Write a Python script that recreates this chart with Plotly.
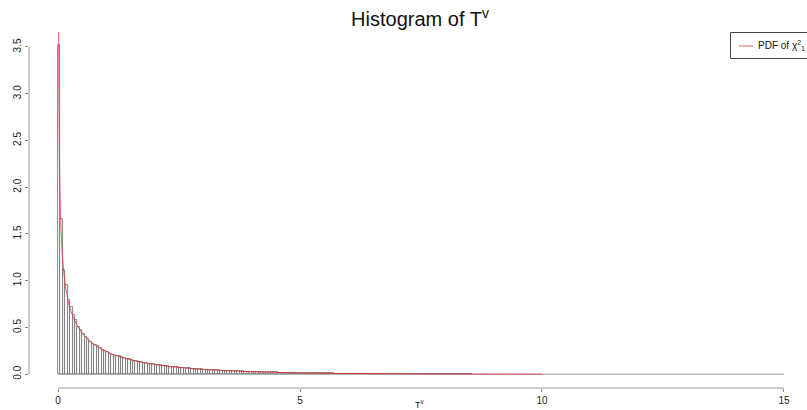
import plotly.graph_objects as go

# ---- data ----
bin_width = 0.05
hist_heights = [
    3.52, 1.66, 1.12, 0.95, 0.79, 0.72, 0.63, 0.58, 0.51, 0.47,
    0.43, 0.40, 0.38, 0.35, 0.32, 0.31, 0.30, 0.28, 0.26, 0.25,
    0.24, 0.22, 0.21, 0.20, 0.19, 0.19, 0.18, 0.17, 0.16, 0.16,
    0.15, 0.145, 0.14, 0.13, 0.13, 0.12, 0.12, 0.115, 0.11, 0.105,
    0.10, 0.098, 0.094, 0.092, 0.087, 0.085, 0.081, 0.080, 0.076, 0.073,
    0.071, 0.069, 0.066, 0.064, 0.062, 0.060, 0.058, 0.056, 0.054, 0.052,
    0.050, 0.049, 0.047, 0.046, 0.044, 0.042, 0.041, 0.040, 0.039, 0.037,
    0.036, 0.035, 0.034, 0.032, 0.032, 0.030, 0.030, 0.029, 0.028, 0.027,
    0.026, 0.025, 0.025, 0.024, 0.023, 0.022, 0.021, 0.021, 0.020, 0.019,
    0.019, 0.018, 0.018, 0.017, 0.016, 0.016, 0.015, 0.015, 0.014, 0.014,
    0.013, 0.013, 0.013, 0.012, 0.012, 0.011, 0.011, 0.011, 0.010, 0.010,
    0.010, 0.009, 0.009, 0.009, 0.008, 0.008, 0.008, 0.008, 0.007, 0.007,
    0.007, 0.007, 0.006, 0.006, 0.006, 0.006, 0.006, 0.005, 0.005, 0.005,
    0.005, 0.005, 0.004, 0.004, 0.004, 0.004, 0.004, 0.004, 0.003, 0.003,
    0.003, 0.003, 0.003, 0.003, 0.003, 0.003, 0.002, 0.002, 0.002, 0.002,
    0.002, 0.002, 0.002, 0.002, 0.002, 0.002, 0.002, 0.001, 0.001, 0.001,
    0.001, 0.001, 0.001, 0.001, 0.001, 0.001, 0.001, 0.001, 0.001, 0.001, 0.001,
]
bin_centers = [bin_width * (i + 0.5) for i in range(len(hist_heights))]

pdf_x = [0.01, 0.02, 0.03, 0.05, 0.075, 0.1, 0.15, 0.2, 0.25, 0.3, 0.4, 0.5, 0.6,
         0.7, 0.8, 0.9, 1.0, 1.2, 1.4, 1.6, 1.8, 2.0, 2.5, 3.0, 3.5, 4.0, 4.5,
         5.0, 6.0, 7.0, 8.0, 9.0, 10.0]
pdf_y = [3.97, 2.79, 2.27, 1.74, 1.40, 1.20, 0.956, 0.807, 0.704, 0.627, 0.516,
         0.439, 0.3815, 0.336, 0.299, 0.268, 0.242, 0.200, 0.1674, 0.1417,
         0.1209, 0.1038, 0.0723, 0.0514, 0.0371, 0.027, 0.0198, 0.0146,
         0.0081, 0.0046, 0.0026, 0.0015, 0.00085]

baseline_x = [0, 15]
baseline_y = [0, 0]

x_ticks = [0, 5, 10, 15]
y_ticks = [0.0, 0.5, 1.0, 1.5, 2.0, 2.5, 3.0, 3.5]
y_ticklabels = ["0.0", "0.5", "1.0", "1.5", "2.0", "2.5", "3.0", "3.5"]
legend_label = "PDF of χ<sup>2</sup><sub>1</sub>"

FONT = "Liberation Sans, Arial, sans-serif"
RED = "rgba(225,40,40,0.75)"

W, H = 807, 410
ml, mr, mt, mb = 29, 0, 32, 22
pw, ph = W - ml - mr, H - mt - mb


def px_x(p):
    return (p - ml) / pw


def px_y(p):
    return (H - mb - p) / ph


fig = go.Figure()
fig.add_trace(go.Scatter(x=baseline_x, y=baseline_y, mode="lines",
                         line=dict(color="#9a9a9a", width=1), showlegend=False,
                         hoverinfo="skip"))
fig.add_trace(go.Bar(x=bin_centers, y=hist_heights, width=bin_width,
                     marker=dict(color="#ffffff", line=dict(color="#6a6a6a", width=0.8)),
                     showlegend=False))
fig.add_trace(go.Scatter(x=pdf_x, y=pdf_y, mode="lines",
                         line=dict(color=RED, width=1, shape="spline"),
                         name=legend_label, showlegend=False))

fig.update_layout(
    width=W, height=H,
    margin=dict(l=ml, r=mr, t=mt, b=mb, autoexpand=False),
    paper_bgcolor="white", plot_bgcolor="white",
    bargap=0,
    showlegend=False,
    font=dict(family=FONT, color="#222222", size=10),
    title=dict(text="Histogram of T<sup>v</sup>", x=420 / W, xanchor="center",
               y=1 - 19 / H, yanchor="middle",
               font=dict(size=20, family=FONT, color="#111111")),
    xaxis=dict(range=[-0.6, 15.476], tickvals=x_ticks, ticktext=[str(t) for t in x_ticks],
               showgrid=False, zeroline=False, showline=False, automargin=False,
               ticks="outside", ticklen=3, tickcolor="#888888",
               tickfont=dict(size=10, color="#222222"), fixedrange=True),
    yaxis=dict(range=[-0.147, 3.66], tickvals=y_ticks, ticktext=y_ticklabels,
               showgrid=False, zeroline=False, showline=False, automargin=False,
               ticks="outside", ticklen=3, tickcolor="#888888", tickangle=-90,
               tickfont=dict(size=10, color="#222222"), fixedrange=True),
    shapes=[
        dict(type="line", xref="paper", yref="y", x0=0, x1=0, y0=0, y1=3.5,
             line=dict(color="#9a9a9a", width=1)),
        dict(type="line", xref="x", yref="paper", x0=0, x1=15, y0=0, y1=0,
             line=dict(color="#9a9a9a", width=1)),
        # legend box and key
        dict(type="rect", xref="paper", yref="paper",
             x0=px_x(730.5), x1=px_x(812), y0=px_y(32.5), y1=px_y(58.5),
             line=dict(color="#444444", width=1), fillcolor="white"),
        dict(type="line", xref="paper", yref="paper",
             x0=px_x(739), x1=px_x(753), y0=px_y(46), y1=px_y(46),
             line=dict(color=RED, width=1)),
    ],
    annotations=[
        dict(text="T<sup>v</sup>", xref="paper", yref="paper",
             x=px_x(420), y=px_y(404),
             xanchor="center", yanchor="middle", showarrow=False,
             font=dict(size=9, color="#222222", family=FONT)),
        dict(text=legend_label, xref="paper", yref="paper",
             x=px_x(756), y=px_y(46), xanchor="left", yanchor="middle",
             showarrow=False, font=dict(size=10, color="#111111", family=FONT)),
    ],
)

fig.write_html("out.html")
